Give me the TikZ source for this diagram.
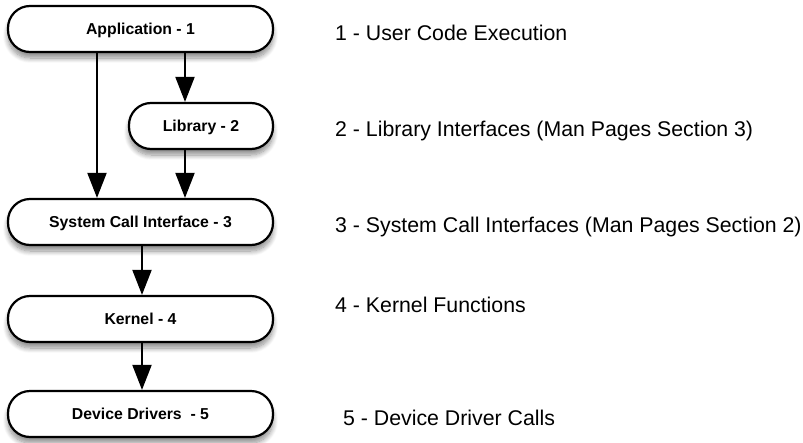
\documentclass[tikz,border=0pt]{standalone}
\usepackage{fontspec}
\setmainfont{Liberation Sans}
\usetikzlibrary{arrows.meta,shadows.blur}
\tikzset{
  layer/.style={draw=black, line width=2.2pt, fill=white,
    rounded corners=22pt, minimum height=46pt, inner sep=0pt,
    text height=11.3pt, text depth=0pt,
    font=\fontsize{15.8pt}{18pt}\selectfont\bfseries,
    blur shadow={shadow xshift=0pt, shadow yshift=-6pt,
      shadow blur steps=10, shadow blur radius=5pt, shadow opacity=45}},
  wide/.style={layer, minimum width=265pt},
  narrow/.style={layer, minimum width=144pt},
  flow/.style={line width=2pt, -{Triangle[length=25pt, width=19pt]}},
  note/.style={anchor=base west, inner sep=0pt,
    font=\fontsize{21.3pt}{24pt}\selectfont}
}
\begin{document}
\begin{tikzpicture}[x=1pt, y=-1pt]
\useasboundingbox (0,0) rectangle (803,442);

% stack of layers
\node[wide]   (app) at (140.5,29)  {Application - 1};
\node[narrow] (lib) at (201,126)   {Library - 2};
\node[wide]   (sys) at (140.5,222) {System Call Interface - 3};
\node[wide]   (ker) at (140.5,319) {Kernel - 4};
\node[wide]   (dev) at (140.5,414) {Device Drivers\ \ - 5};

% calls between layers
\draw[flow] ([xshift=-43.5pt]app.south) -- ([xshift=-43.5pt]sys.north);
\draw[flow] ([xshift=44.5pt]app.south) -- ([xshift=-16pt]lib.north);
\draw[flow] ([xshift=-16pt]lib.south) -- ([xshift=44.5pt]sys.north);
\draw[flow] ([xshift=1.5pt]sys.south) -- ([xshift=1.5pt]ker.north);
\draw[flow] ([xshift=1.5pt]ker.south) -- ([xshift=1.5pt]dev.north);

% descriptions
\node[note] (n1) at (335,40.5)  {1 - User Code Execution};
\node[note] (n2) at (335,136)   {2 - Library Interfaces (Man Pages Section 3)};
\node[note] (n3) at (335,232.5) {3 - System Call Interfaces (Man Pages Section 2)};
\node[note] (n4) at (335,312.5) {4 - Kernel Functions};
\node[note] (n5) at (343,425)   {5 - Device Driver Calls};
\end{tikzpicture}
\end{document}
